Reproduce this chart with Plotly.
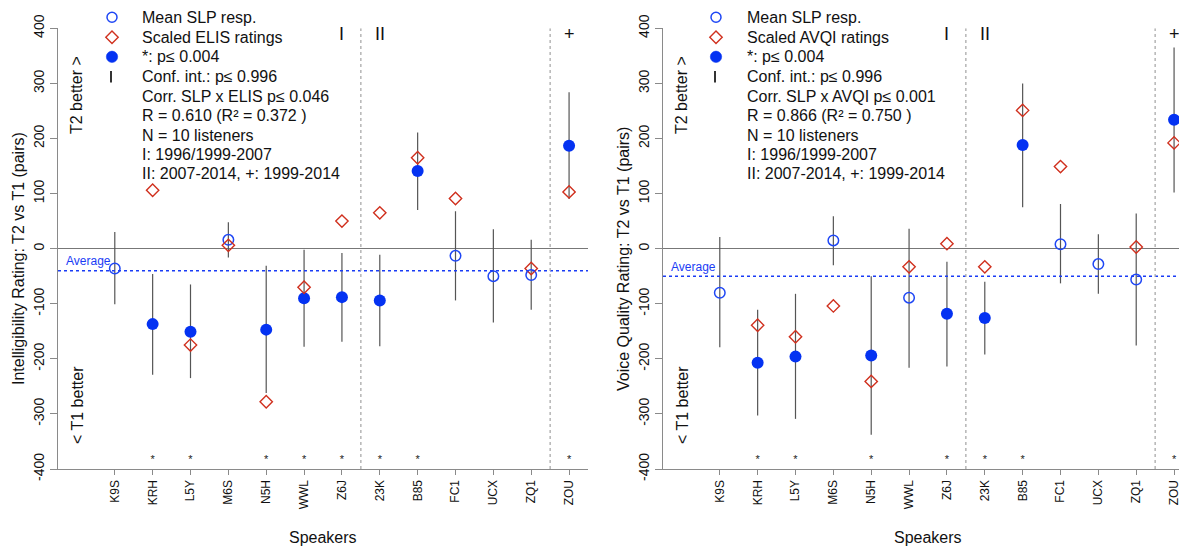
import plotly.graph_objects as go

# ---------------- data ----------------
speakers = ["K9S", "KRH", "L5Y", "M6S", "N5H", "WWL", "Z6J",
            "23K", "B85", "FC1", "UCX", "ZQ1", "ZOU"]

elis_mean = [-36, -137, -151, 16, -147, -90, -88, -94, 141, -13, -50, -48, 187]
elis_lo = [-101, -229, -235, -16, -262, -178, -169, -177, 70, -94, -134, -111, 90]
elis_hi = [30, -46, -65, 48, -31, -2, -8, -11, 211, 68, 35, 16, 284]
elis_scaled = [None, 106, -175, 6, -278, -70, 50, 65, 165, 91, None, -36, 103]
elis_sig = [0, 1, 1, 0, 1, 1, 1, 1, 1, 0, 0, 0, 1]
elis_avg = -40

avqi_mean = [-80, -207, -196, 15, -194, -89, -118, -126, 188, 8, -28, -56, 234]
avqi_lo = [-179, -303, -309, -30, -338, -216, -214, -192, 75, -63, -82, -176, 102]
avqi_hi = [21, -111, -82, 59, -50, 36, -24, -60, 300, 81, 26, 64, 365]
avqi_scaled = [None, -139, -160, -104, -241, -33, 9, -33, 251, 149, None, 3, 192]
avqi_sig = [0, 1, 1, 0, 1, 0, 1, 1, 1, 0, 0, 0, 1]
avqi_avg = -50

period_labels = ["I", "II", "+"]
period_label_idx = [6, 7, 12]
period_bounds = [6.5, 11.5]

y_ticks = [-400, -300, -200, -100, 0, 100, 200, 300, 400]

legend_common = ["*: p\u2264 0.004", "Conf. int.: p\u2264 0.996"]
legend_tail = ["N = 10 listeners", "I: 1996/1999-2007", "II: 2007-2014, +: 1999-2014"]

panels = [
    dict(mean=elis_mean, lo=elis_lo, hi=elis_hi, scaled=elis_scaled, sig=elis_sig,
         avg=elis_avg, measure="ELIS",
         ytitle="Intelligibility Rating: T2 vs T1 (pairs)",
         corr="Corr. SLP x ELIS p\u2264 0.046",
         rtxt="R = 0.610 (R\u00b2 = 0.372 )"),
    dict(mean=avqi_mean, lo=avqi_lo, hi=avqi_hi, scaled=avqi_scaled, sig=avqi_sig,
         avg=avqi_avg, measure="AVQI",
         ytitle="Voice Quality Rating: T2 vs T1 (pairs)",
         corr="Corr. SLP x AVQI p\u2264 0.001",
         rtxt="R = 0.866 (R\u00b2 = 0.750 )"),
]

# ---------------- layout geometry ----------------
OFF = 8                      # default page margin around the figure
SW, SH = 1187, 550           # screen size
W, H = SW - OFF, SH - OFF    # figure size
FONT = "Liberation Sans, Arial, Helvetica, sans-serif"
BLUE = "#0432f2"
OPEN_BLUE = "#1f47f5"
RED = "#d0301e"
CI = "#555555"
AXC = "#8a8a8a"

def px_x(p):
    return (p - OFF) / W

def px_y(p):
    return 1 - (p - OFF) / H

ydom = [px_y(469), px_y(28.3)]
xdoms = [[px_x(58), px_x(588)], [px_x(663), 1.0]]
step = (588 - 58) / 14.0
xranges = [[-1.5, 12.5], [-1.5, -1.5 + (SW - 663) / step]]
ytitle_x = [18, 623]
side_x = [77, 682]
avg_lbl_x = [64, 669]
leg_mark_x = [112, 716]
leg_text_x = [140, 745]

fig = go.Figure()
annotations = []
shapes = []

for k, p in enumerate(panels):
    xa = "x" if k == 0 else "x2"
    ya = "y" if k == 0 else "y2"
    idx = list(range(len(speakers)))

    # confidence interval segments
    cx, cy = [], []
    for i in idx:
        cx += [i, i, None]
        cy += [p["lo"][i], p["hi"][i], None]
    fig.add_trace(go.Scatter(x=cx, y=cy, mode="lines", xaxis=xa, yaxis=ya,
                             line=dict(color=CI, width=1.2), showlegend=False,
                             hoverinfo="skip"))

    # mean SLP responses: open (n.s.) and filled (significant)
    ns_x = [i for i in idx if not p["sig"][i]]
    sg_x = [i for i in idx if p["sig"][i]]
    fig.add_trace(go.Scatter(
        x=ns_x, y=[p["mean"][i] for i in ns_x], mode="markers", xaxis=xa, yaxis=ya,
        showlegend=False,
        marker=dict(symbol="circle-open", size=10.5, opacity=1, color=OPEN_BLUE,
                    line=dict(width=1.5, color=OPEN_BLUE))))
    fig.add_trace(go.Scatter(
        x=sg_x, y=[p["mean"][i] for i in sg_x], mode="markers", xaxis=xa, yaxis=ya,
        showlegend=False,
        marker=dict(symbol="circle", size=12, opacity=1, color=BLUE,
                    line=dict(width=0, color=BLUE))))

    # scaled objective ratings
    fig.add_trace(go.Scatter(
        x=idx, y=p["scaled"], mode="markers", xaxis=xa, yaxis=ya, showlegend=False,
        marker=dict(symbol="diamond-open", size=9.5, opacity=1, color=RED,
                    line=dict(width=1.4, color=RED))))

    # significance stars
    fig.add_trace(go.Scatter(x=sg_x, y=[-384] * len(sg_x), mode="text", text=["*"] * len(sg_x),
                             textfont=dict(size=11, color="#222", family=FONT),
                             xaxis=xa, yaxis=ya, showlegend=False, hoverinfo="skip"))

    # legend glyphs (paper coordinates)
    mx = leg_mark_x[k]
    r = 5.0
    shapes.append(dict(type="circle", xref="paper", yref="paper",
                       x0=px_x(mx - r), x1=px_x(mx + r), y0=px_y(17.3 + r), y1=px_y(17.3 - r),
                       line=dict(color=OPEN_BLUE, width=1.5)))
    d = 6.2
    cyd = 37.2
    shapes.append(dict(type="path", xref="paper", yref="paper",
                       path="M %f %f L %f %f L %f %f L %f %f Z" % (
                           px_x(mx), px_y(cyd - d), px_x(mx + d), px_y(cyd),
                           px_x(mx), px_y(cyd + d), px_x(mx - d), px_y(cyd)),
                       line=dict(color=RED, width=1.4)))
    r2 = 5.7
    shapes.append(dict(type="circle", xref="paper", yref="paper",
                       x0=px_x(mx - r2), x1=px_x(mx + r2), y0=px_y(56.8 + r2), y1=px_y(56.8 - r2),
                       fillcolor=BLUE, line=dict(color=BLUE, width=0.5)))
    shapes.append(dict(type="line", xref="paper", yref="paper", x0=px_x(mx - 1), x1=px_x(mx - 1),
                       y0=px_y(71), y1=px_y(82.5), line=dict(color="#333", width=2)))

    legend_lines = ["Mean SLP resp.", "Scaled %s ratings" % p["measure"]] + legend_common + \
                   [p["corr"], p["rtxt"]] + legend_tail
    legend_px = [17.3, 37.2, 56.8, 76.4, 96.0, 115.6, 135.0, 154.4, 173.8]
    for txt, py in zip(legend_lines, legend_px):
        annotations.append(dict(text=txt, xref="paper", yref="paper",
                                x=px_x(leg_text_x[k]), y=px_y(py),
                                xanchor="left", yanchor="middle", showarrow=False,
                                font=dict(size=16, color="#111", family=FONT)))

    # average line + label
    shapes.append(dict(type="line", xref=xa + " domain", yref=ya, x0=0, x1=1,
                       y0=p["avg"], y1=p["avg"], line=dict(color="#1a3cf5", width=1.6, dash="dot")))
    annotations.append(dict(text="Average", xref="paper", yref=ya, x=px_x(avg_lbl_x[k]),
                            y=p["avg"] + 17, xanchor="left", yanchor="middle", showarrow=False,
                            font=dict(size=12, color="#1a3cf5", family=FONT)))

    # period separators and labels
    for b in period_bounds:
        shapes.append(dict(type="line", xref=xa, yref=ya, x0=b, x1=b, y0=-400, y1=400,
                           line=dict(color="#aaaaaa", width=1.3, dash="dot")))
    for lbl, pi in zip(period_labels, period_label_idx):
        annotations.append(dict(text=lbl, xref=xa, yref=ya, x=pi, y=390, showarrow=False,
                                xanchor="center", yanchor="middle",
                                font=dict(size=18, color="#111", family=FONT)))

    # side annotations
    for txt, py in (("T2 better >", 95), ("< T1 better", 405)):
        annotations.append(dict(text=txt, xref="paper", yref="paper", x=px_x(side_x[k]),
                                y=px_y(py), textangle=-90, showarrow=False,
                                xanchor="center", yanchor="middle",
                                font=dict(size=16, color="#111", family=FONT)))
    # axis titles
    annotations.append(dict(text=p["ytitle"], xref="paper", yref="paper", x=px_x(ytitle_x[k]),
                            y=px_y(259), textangle=-90, showarrow=False,
                            xanchor="center", yanchor="middle",
                            font=dict(size=16, color="#111", family=FONT)))
    annotations.append(dict(text="Speakers", xref=xa, yref="paper", x=5.5, y=px_y(537),
                            xanchor="center", yanchor="middle",
                            showarrow=False, font=dict(size=16, color="#111", family=FONT)))

axis_common_x = dict(tickmode="array", tickvals=list(range(len(speakers))), ticktext=speakers,
                     tickangle=-90, ticks="outside", ticklen=5, tickcolor=AXC, tickwidth=1.2,
                     showline=True, linecolor=AXC, linewidth=1.4, showgrid=False, zeroline=False,
                     automargin=False,
                     tickfont=dict(size=12, color="#111", family=FONT))
axis_common_y = dict(range=[-400, 400], tickmode="array", tickvals=y_ticks,
                     ticktext=[str(v) for v in y_ticks], tickangle=-90,
                     ticks="outside", ticklen=7, tickcolor=AXC, tickwidth=1.2,
                     showline=True, linecolor=AXC, linewidth=1.4, showgrid=False,
                     zeroline=True, zerolinecolor="#777", zerolinewidth=1.2, domain=ydom,
                     automargin=False,
                     tickfont=dict(size=14, color="#111", family=FONT))

fig.update_layout(
    width=W, height=H, autosize=False,
    margin=dict(l=0, r=0, t=0, b=0, pad=0, autoexpand=False),
    paper_bgcolor="white", plot_bgcolor="white",
    showlegend=False,
    xaxis=dict(domain=xdoms[0], range=xranges[0], anchor="y", **axis_common_x),
    yaxis=dict(anchor="x", **axis_common_y),
    xaxis2=dict(domain=xdoms[1], range=xranges[1], anchor="y2", **axis_common_x),
    yaxis2=dict(anchor="x2", **axis_common_y),
    annotations=annotations,
    shapes=shapes,
    font=dict(family=FONT),
)

fig.write_html("out.html")
